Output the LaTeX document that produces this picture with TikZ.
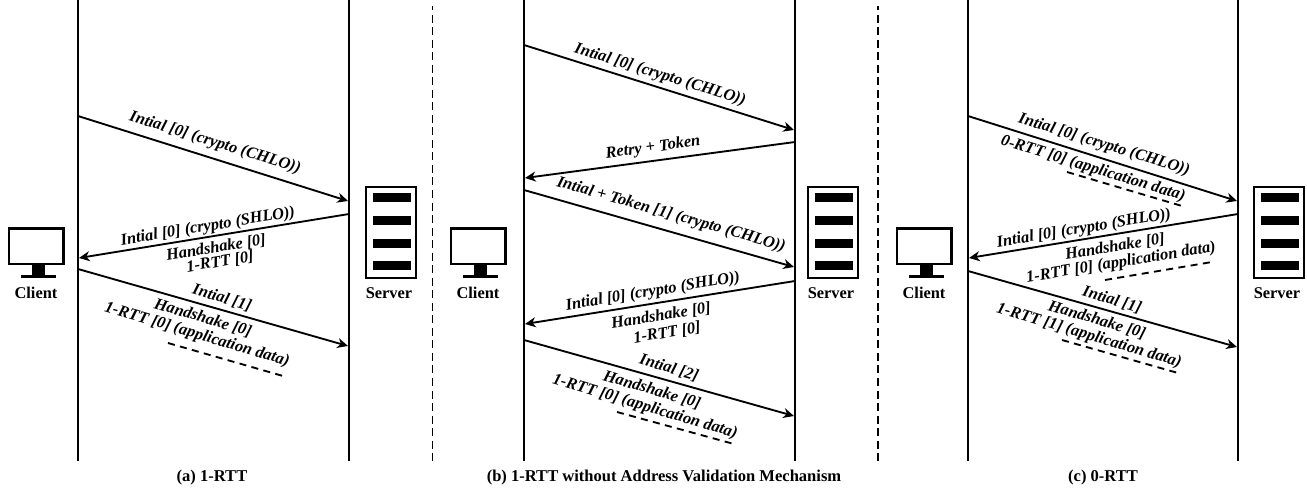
\documentclass[tikz,border=0pt]{standalone}
\usepackage{fontspec}
\setmainfont{Liberation Serif}
\usetikzlibrary{arrows.meta}
\tikzset{
  life/.style={line width=1.5pt,black},
  msgarrow/.style={line width=1.4pt,black,-{Stealth[length=8pt,width=7.5pt,inset=2.5pt]}},
  sepline/.style={line width=1.3pt,dash pattern=on 6pt off 3.4pt,dash phase=3pt},
  underline/.style={line width=1.4pt,dash pattern=on 5.3pt off 4pt},
  lab/.style={inner sep=0pt,font=\bfseries\itshape\fontsize{12.3}{14}\selectfont},
  tagtext/.style={inner sep=0pt,font=\bfseries\fontsize{12.3}{14}\selectfont},
  captext/.style={inner sep=0pt,font=\bfseries\fontsize{12.4}{14}\selectfont},
  iconframe/.style={line width=1.6pt,fill=white}
}
\newcommand{\panelicons}[5]{%
  \coordinate (#1ct) at (#2,0);
  \coordinate (#1cb) at (#2,461);
  \coordinate (#1st) at (#3,0);
  \coordinate (#1sb) at (#3,461);
  \draw[life] (#1ct) -- (#1cb);
  \draw[life] (#1st) -- (#1sb);
  \fill[black] (#4+24,264) rectangle (#4+37,275);
  \fill[black] (#4+13,274.5) rectangle (#4+48,278);
  \draw[iconframe] (#4+1,228.5) rectangle (#4+55.5,264);
  \node[tagtext] (#1client) at (#4+28,293) {Client};
  \draw[iconframe] (#5+1,187) rectangle (#5+51,278);
  \fill[black] (#5+7.5,193) rectangle (#5+45.5,202);
  \fill[black] (#5+7.5,216) rectangle (#5+45.5,225);
  \fill[black] (#5+7.5,239) rectangle (#5+45.5,248);
  \fill[black] (#5+7.5,261) rectangle (#5+45.5,270);
  \node[tagtext] (#1server) at (#5+24,293) {Server};
}
\newcommand{\msgline}[5]{%
  \coordinate (#1from) at (#2,#3);
  \coordinate (#1to) at (#4,#5);
  \draw[msgarrow] (#1from) -- (#1to);
}
\newcommand{\dashline}[5]{%
  \coordinate (#1from) at (#2,#3);
  \coordinate (#1to) at (#4,#5);
  \draw[underline] (#1from) -- (#1to);
}
\begin{document}
\begin{tikzpicture}[x=0.75pt,y=-0.75pt]
\useasboundingbox (0,0) rectangle (1307,492);
\coordinate (s1t) at (432.5,6); \coordinate (s1b) at (432.5,461);
\coordinate (s2t) at (878,6); \coordinate (s2b) at (878,461);
\draw[sepline] (s1t) -- (s1b);
\draw[sepline] (s2t) -- (s2b);

% panel a
\panelicons{a}{78}{349}{8}{365}
\msgline{a1}{78}{116}{348}{201}
\msgline{a2}{349}{214}{79}{258}
\msgline{a3}{78}{269}{348}{346}
\node[lab,rotate=-17] (a1l) at (215,143) {Intial [0] (crypto (CHLO))};
\node[lab,rotate=9.3] (a2l) at (208,227) {Intial [0] (crypto (SHLO))};
\node[lab,rotate=9.3] (a2m) at (216,248) {Handshake [0]};
\node[lab,rotate=9.3] (a2n) at (220,262) {1-RTT [0]};
\node[lab,rotate=-16.5] (a3l) at (222,298) {Intial [1]};
\node[lab,rotate=-16.5] (a3m) at (203,318) {Handshake [0]};
\node[lab,rotate=-16.5] (a3n) at (197,335) {1-RTT [0] (application data)};
\dashline{a4}{168}{343}{283}{376}
\node[captext] (acap) at (212,478) {(a) 1-RTT};

% panel b
\panelicons{b}{524}{795}{450}{807}
\msgline{b1}{524}{45}{794}{130}
\msgline{b2}{795}{142}{525}{178}
\msgline{b3}{524}{190}{794}{267}
\msgline{b4}{795}{281}{525}{324}
\msgline{b5}{524}{340}{794}{416}
\node[lab,rotate=-17] (b1l) at (660,75) {Intial [0] (crypto (CHLO))};
\node[lab,rotate=7.6] (b2l) at (653,148) {Retry + Token};
\node[lab,rotate=-16] (b3l) at (671,215) {Intial + Token [1] (crypto (CHLO))};
\node[lab,rotate=9.3] (b4l) at (653,292) {Intial [0] (crypto (SHLO))};
\node[lab,rotate=9.3] (b4m) at (661,316) {Handshake [0]};
\node[lab,rotate=9.3] (b4n) at (667,333) {1-RTT [0]};
\node[lab,rotate=-16.5] (b5l) at (669,368) {Intial [2]};
\node[lab,rotate=-16.5] (b5m) at (652,390) {Handshake [0]};
\node[lab,rotate=-16.5] (b5n) at (645,407) {1-RTT [0] (application data)};
\dashline{b6}{617}{412}{734}{444}
\node[captext] (bcap) at (664,478) {(b) 1-RTT without Address Validation Mechanism};

% panel c
\panelicons{c}{968}{1238}{896}{1253}
\msgline{c1}{968}{116}{1237}{201}
\msgline{c2}{1238}{214}{969}{258}
\msgline{c3}{968}{271}{1237}{347}
\node[lab,rotate=-17] (c1l) at (1104,145) {Intial [0] (crypto (CHLO))};
\node[lab,rotate=-17] (c1m) at (1093,169) {0-RTT [0] (application data)};
\dashline{c4}{1067}{172}{1182}{206}
\node[lab,rotate=9.3] (c2l) at (1084,229) {Intial [0] (crypto (SHLO))};
\node[lab,rotate=9.3] (c2m) at (1115,247) {Handshake [0]};
\node[lab,rotate=9.3] (c2n) at (1121,263) {1-RTT [0] (application data)};
\dashline{c5}{1105}{280}{1212}{262}
\node[lab,rotate=-16.5] (c3l) at (1112,300) {Intial [1]};
\node[lab,rotate=-16.5] (c3m) at (1097,320) {Handshake [0]};
\node[lab,rotate=-16.5] (c3n) at (1089,336) {1-RTT [1] (application data)};
\dashline{c6}{1062}{340}{1178}{373}
\node[captext] (ccap) at (1103,478) {(c) 0-RTT};
\end{tikzpicture}
\end{document}
